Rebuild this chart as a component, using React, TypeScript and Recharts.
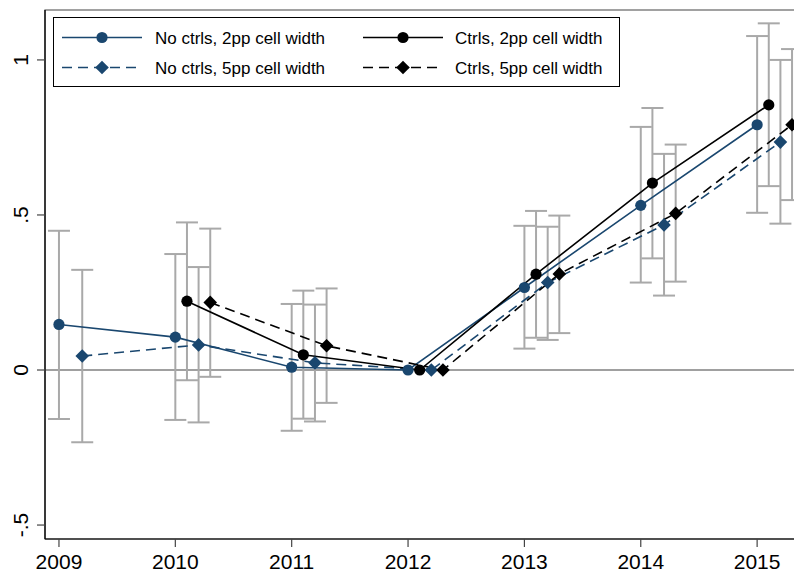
import React from 'react';
import {
  ComposedChart,
  Line,
  Scatter,
  ErrorBar,
  XAxis,
  YAxis,
  ReferenceLine,
  ReferenceArea,
  Legend,
} from 'recharts';

// x positions (years, with the small Stata offsets per series)
const noCtrl2X = [2009, 2010, 2011, 2012, 2013, 2014, 2015];
const noCtrl5X = [2009.2, 2010.2, 2011.2, 2012.2, 2013.2, 2014.2, 2015.2];
const ctrl2X = [2010.1, 2011.1, 2012.1, 2013.1, 2014.1, 2015.1];
const ctrl5X = [2010.3, 2011.3, 2012.3, 2013.3, 2014.3, 2015.3];

// point estimates and 95% CI bounds (null = base year, no bar)
const noCtrl2 = [0.147, 0.106, 0.009, 0, 0.266, 0.531, 0.791];
const noCtrl2Lo = [-0.158, -0.161, -0.196, null, 0.069, 0.282, 0.507];
const noCtrl2Hi = [0.449, 0.374, 0.213, null, 0.465, 0.784, 1.077];

const noCtrl5 = [0.045, 0.081, 0.023, 0, 0.282, 0.468, 0.735];
const noCtrl5Lo = [-0.233, -0.169, -0.166, null, 0.097, 0.24, 0.472];
const noCtrl5Hi = [0.323, 0.332, 0.211, null, 0.462, 0.697, 1.0];

const ctrl2 = [0.222, 0.049, 0, 0.309, 0.603, 0.855];
const ctrl2Lo = [-0.033, -0.157, null, 0.104, 0.36, 0.593];
const ctrl2Hi = [0.476, 0.256, null, 0.513, 0.845, 1.118];

const ctrl5 = [0.218, 0.078, 0, 0.31, 0.505, 0.791];
const ctrl5Lo = [-0.022, -0.106, null, 0.119, 0.285, 0.548];
const ctrl5Hi = [0.456, 0.263, null, 0.498, 0.727, 1.035];

const xTicks = [2009, 2010, 2011, 2012, 2013, 2014, 2015];
const yTicks = [-0.5, 0, 0.5, 1];
const yTickLabels = ['-.5', '0', '.5', '1'];

const X_DOMAIN: [number, number] = [2008.88, 2015.42];
const Y_DOMAIN: [number, number] = [-0.545, 1.161];

const NAVY = '#1a476f';
const BLACK = '#000000';
const CI_GRAY = '#a9a9a9';
const FONT = '"Liberation Sans", Arial, Helvetica, sans-serif';

const points = (xs: number[], ys: number[]) => xs.map((x, i) => ({ x, y: ys[i] }));

const bars = (xs: number[], ys: number[], lo: (number | null)[], hi: (number | null)[]) =>
  xs
    .map((x, i) => ({ x, y: ys[i], lo: lo[i], hi: hi[i] }))
    .filter(d => d.lo != null && d.hi != null)
    .map(d => ({ x: d.x, y: d.y, err: [d.y - (d.lo as number), (d.hi as number) - d.y] }));

const series = [
  { name: 'No ctrls, 2pp cell width', color: NAVY, dashed: false, marker: 'circle', data: points(noCtrl2X, noCtrl2), ci: bars(noCtrl2X, noCtrl2, noCtrl2Lo, noCtrl2Hi) },
  { name: 'No ctrls, 5pp cell width', color: NAVY, dashed: true, marker: 'diamond', data: points(noCtrl5X, noCtrl5), ci: bars(noCtrl5X, noCtrl5, noCtrl5Lo, noCtrl5Hi) },
  { name: 'Ctrls, 2pp cell width', color: BLACK, dashed: false, marker: 'circle', data: points(ctrl2X, ctrl2), ci: bars(ctrl2X, ctrl2, ctrl2Lo, ctrl2Hi) },
  { name: 'Ctrls, 5pp cell width', color: BLACK, dashed: true, marker: 'diamond', data: points(ctrl5X, ctrl5), ci: bars(ctrl5X, ctrl5, ctrl5Lo, ctrl5Hi) },
];

const Marker = ({ cx, cy, color, kind }: { cx: number; cy: number; color: string; kind: string }) => {
  if (cx == null || cy == null) return null;
  if (kind === 'diamond') {
    const r = 6.8;
    return <path d={`M${cx},${cy - r}L${cx + r},${cy}L${cx},${cy + r}L${cx - r},${cy}Z`} fill={color} />;
  }
  return <circle cx={cx} cy={cy} r={5.6} fill={color} />;
};

const XTick = (props: any) => {
  const { x, y, payload } = props;
  return (
    <text x={x} y={y + 20} textAnchor="middle" fontFamily={FONT} fontSize={21} fill="#000">
      {payload.value}
    </text>
  );
};

const YTick = (props: any) => {
  const { y, payload } = props;
  const idx = yTicks.indexOf(payload.value);
  const bx = 28;
  return (
    <text x={bx} y={y} textAnchor="middle" transform={`rotate(-90, ${bx}, ${y})`} fontFamily={FONT} fontSize={21} fill="#000">
      {idx >= 0 ? yTickLabels[idx] : payload.value}
    </text>
  );
};

const LegendBox = () => {
  const cols = [
    { lx: 9, mx: 49, tx: 102 },
    { lx: 310, mx: 350, tx: 402 },
  ];
  return (
    <svg width={567} height={70} style={{ display: 'block' }}>
      <rect x={0.5} y={0.5} width={566} height={69} fill="#fff" stroke="#000" strokeWidth={1} />
      {series.map((s, i) => {
        const col = cols[Math.floor(i / 2)];
        const cy = i % 2 === 0 ? 20.5 : 50.5;
        return (
          <g key={s.name}>
            <line x1={col.lx} x2={col.lx + 80} y1={cy} y2={cy} stroke={s.color} strokeWidth={1.6} strokeDasharray={s.dashed ? '10 6' : undefined} />
            <Marker cx={col.mx} cy={cy} color={s.color} kind={s.marker} />
            <text x={col.tx} y={cy} dy="0.36em" fontFamily={FONT} fontSize={17} fill="#000">
              {s.name}
            </text>
          </g>
        );
      })}
    </svg>
  );
};

export default function App() {
  return (
    <div style={{ position: 'absolute', left: 0, top: 0, width: 794, height: 573, overflow: 'hidden', background: '#fff' }}>
      <ComposedChart width={830} height={573} margin={{ top: 10, right: 24, bottom: 0, left: 0 }}>
        <XAxis
          dataKey="x"
          type="number"
          domain={X_DOMAIN}
          ticks={xTicks}
          allowDataOverflow
          height={34}
          tickSize={8}
          tick={<XTick />}
          axisLine={{ stroke: '#000', strokeWidth: 1.2 }}
          tickLine={{ stroke: '#444', strokeWidth: 1.2 }}
        />
        <YAxis
          type="number"
          domain={Y_DOMAIN}
          ticks={yTicks}
          allowDataOverflow
          width={45}
          tickSize={8}
          tick={<YTick />}
          axisLine={{ stroke: '#000', strokeWidth: 1.2 }}
          tickLine={{ stroke: '#444', strokeWidth: 1.2 }}
        />
        <ReferenceArea x1={X_DOMAIN[0]} x2={X_DOMAIN[1]} y1={Y_DOMAIN[0]} y2={Y_DOMAIN[1]} fill="none" stroke="#444" strokeWidth={1.2} />
        <ReferenceLine y={0} stroke="#808080" strokeWidth={1.6} />
        {series.map(s => (
          <Scatter key={`ci-${s.name}`} data={s.ci} dataKey="y" shape={() => <g />} isAnimationActive={false} legendType="none">
            <ErrorBar dataKey="err" direction="y" width={11} stroke={CI_GRAY} strokeWidth={2} />
          </Scatter>
        ))}
        {series.map(s => (
          <Line
            key={s.name}
            data={s.data}
            dataKey="y"
            type="linear"
            stroke={s.color}
            strokeWidth={1.6}
            strokeDasharray={s.dashed ? '10 6' : undefined}
            dot={(p: any) => <Marker key={`${s.name}-${p.index}`} cx={p.cx} cy={p.cy} color={s.color} kind={s.marker} />}
            activeDot={false}
            isAnimationActive={false}
            legendType="none"
          />
        ))}
        <Legend
          layout="vertical"
          align="center"
          verticalAlign="middle"
          content={() => <LegendBox />}
          wrapperStyle={{ left: 53, top: 17, width: 567, height: 70, bottom: 'auto', right: 'auto' }}
        />
      </ComposedChart>
    </div>
  );
}
